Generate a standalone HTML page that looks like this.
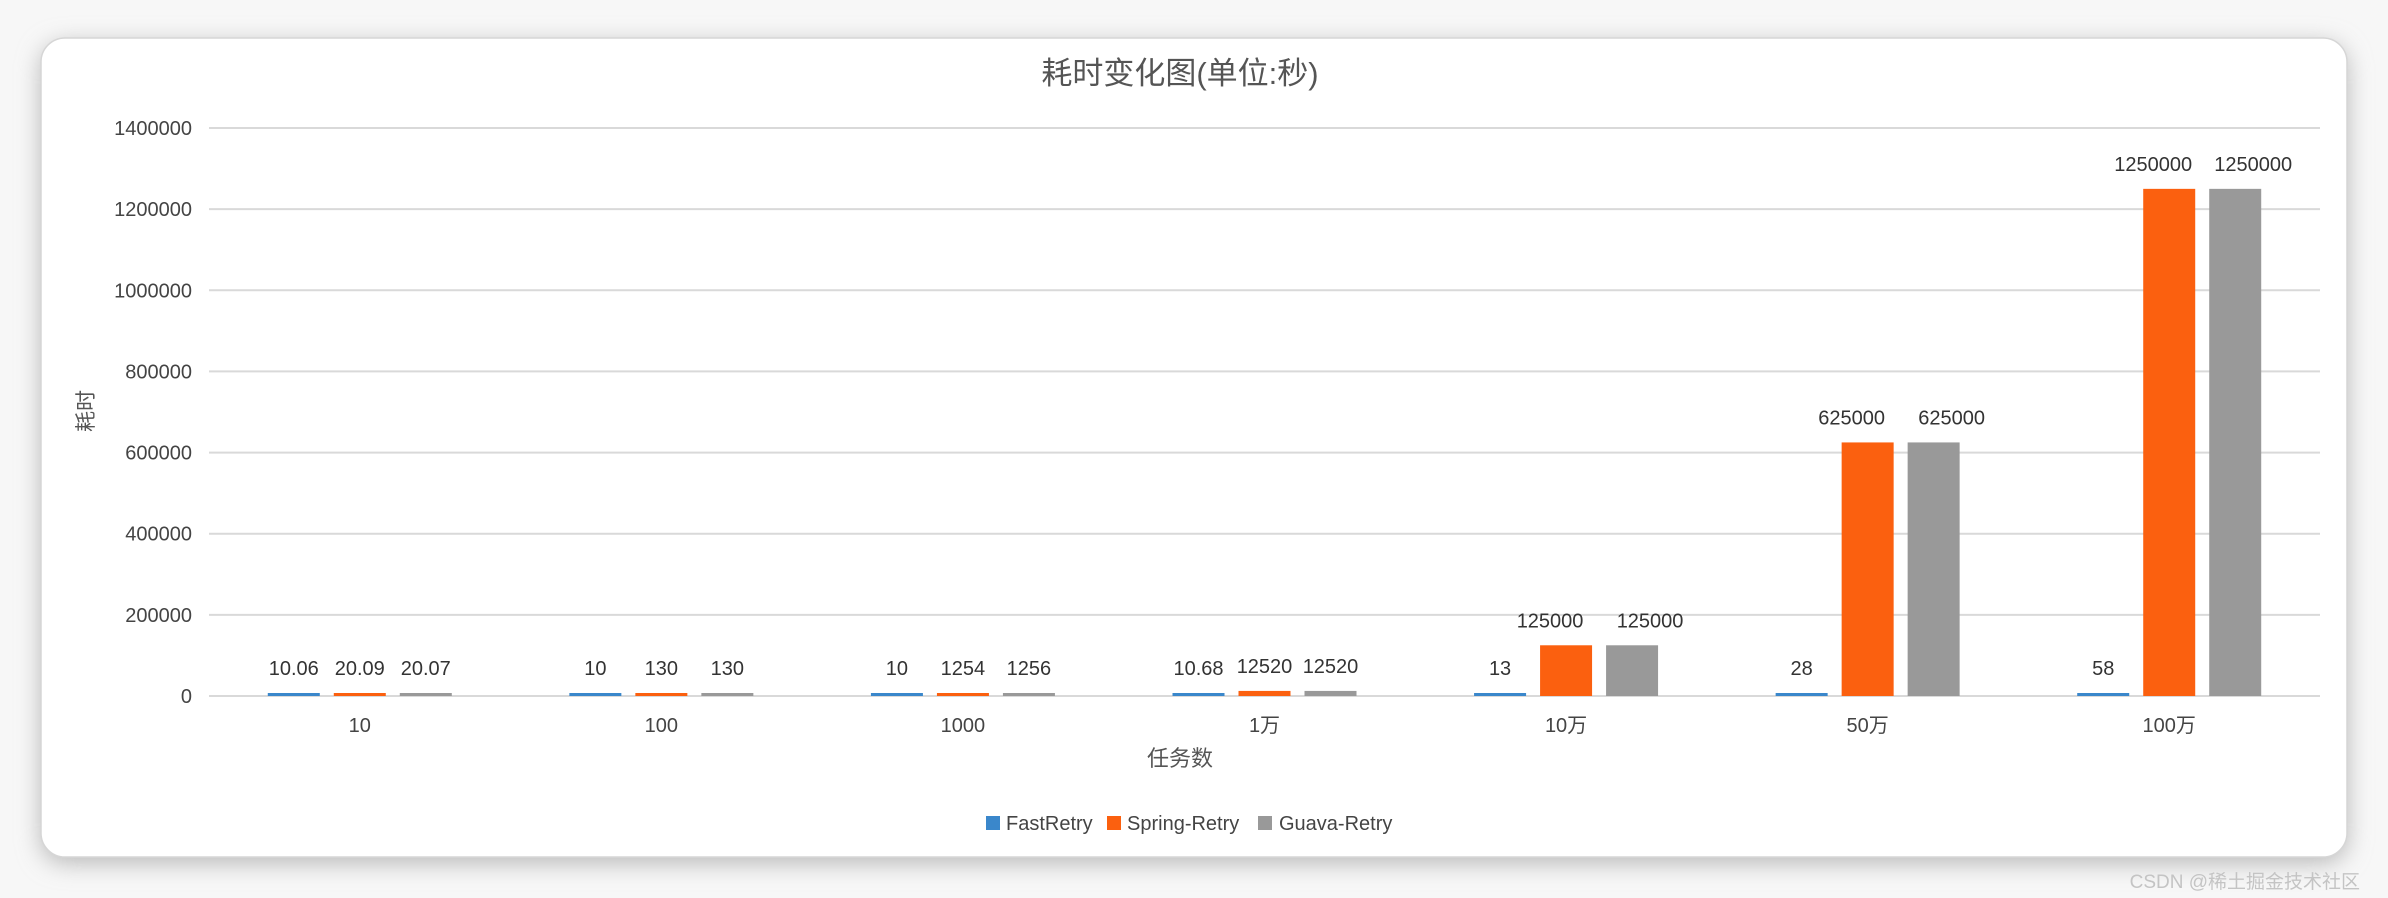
<!DOCTYPE html>
<html><head><meta charset="utf-8">
<style>
html,body{margin:0;padding:0;background:#f3f3f3;}
svg{display:block;font-family:"Liberation Sans","Noto Sans CJK SC",sans-serif;}
</style></head>
<body>
<svg id="chart" width="2388" height="898" viewBox="0 0 2388 898">
<defs>
<filter id="sh" x="-5%" y="-10%" width="110%" height="120%"><feGaussianBlur stdDeviation="12"/></filter>
</defs>
<rect x="0" y="0" width="2388" height="898" fill="#f7f7f7"/>
<rect x="41" y="44" width="2306" height="819" rx="24" fill="#b8b8b8" filter="url(#sh)"/>
<rect x="41" y="38" width="2306" height="819" rx="24" fill="#ffffff" stroke="#d6d6d6" stroke-width="1.5"/>
<text x="1180" y="84" font-size="31" fill="#555" text-anchor="middle">耗时变化图(单位:秒)</text>
<text transform="translate(93,411) rotate(-90)" font-size="21" fill="#555" text-anchor="middle">耗时</text>
<text x="1180" y="766" font-size="22" fill="#555" text-anchor="middle">任务数</text>
<g id="grid"></g><g id="bars"></g><g id="labels"></g>
<g>
<rect x="986" y="816" width="14" height="14" fill="#3a87cb"/>
<text x="1006" y="830" font-size="20" fill="#444">FastRetry</text>
<rect x="1107" y="816" width="14" height="14" fill="#fb600f"/>
<text x="1127" y="830" font-size="20" fill="#444">Spring-Retry</text>
<rect x="1258" y="816" width="14" height="14" fill="#999999"/>
<text x="1279" y="830" font-size="20" fill="#444">Guava-Retry</text>
</g>
<text x="2360" y="888" font-size="19" fill="#c4c4c4" text-anchor="end">CSDN @稀土掘金技术社区</text>
</svg>
<script>
const categories = ["10","100","1000","1万","10万","50万","100万"];
const fastRetry = [10.06,10,10,10.68,13,28,58];
const springRetry = [20.09,130,1254,12520,125000,625000,1250000];
const guavaRetry = [20.07,130,1256,12520,125000,625000,1250000];
const yTicks = [0,200000,400000,600000,800000,1000000,1200000,1400000];
const seriesNames = ["fastretry","spring-retry","guava-retry"];
const seriesColors = ["#3a87cb","#fb600f","#999999"];

const NS = "http://www.w3.org/2000/svg";
const L = 209, R = 2320, T = 128, B = 696, YMAX = 1400000;
const y = v => B - (v / YMAX) * (B - T);
const band = (R - L) / categories.length;
const xc = i => L + band * (i + 0.5);
function mk(tag, attrs, parent, txt) {
  const e = document.createElementNS(NS, tag);
  for (const k in attrs) e.setAttribute(k, attrs[k]);
  if (txt !== undefined) e.textContent = txt;
  parent.appendChild(e);
  return e;
}
const grid = document.getElementById('grid');
const bars = document.getElementById('bars');
const labels = document.getElementById('labels');
yTicks.forEach(t => {
  const ln = mk('line', {x1: L, x2: R, y1: y(t), y2: y(t), stroke: '#d9d9d9', 'stroke-width': 2}, grid);
  
  
  const tx = mk('text', {x: 192, y: y(t) + 7, 'font-size': 20, fill: '#444', 'text-anchor': 'end'}, grid, String(t));
  
  
});
categories.forEach((c, i) => {
  const tx = mk('text', {x: xc(i), y: 732, 'font-size': 20, fill: '#444', 'text-anchor': 'middle'}, labels, c);
  
  
});
const series = [fastRetry, springRetry, guavaRetry];
const bw = 52, step = 66;
series.forEach((vals, s) => {
  vals.forEach((v, i) => {
    const cx = xc(i) + (s - 1) * step;
    let top = y(v);
    let h = B - top;
    if (h < 3) { h = 3; top = B - 3; }
    const r = mk('rect', {x: cx - bw / 2, y: top, width: bw, height: h, fill: seriesColors[s]}, bars);
    
    
    const str = String(v);
    let dx = 0;
    if (str.length >= 6 && s > 0) dx = s === 1 ? -16 : 18;
    const tl = mk('text', {x: cx + dx, y: top - 18, 'font-size': 20, fill: '#333', 'text-anchor': 'middle'}, labels, str);
    
    
  });
});
</script>
</body></html>
